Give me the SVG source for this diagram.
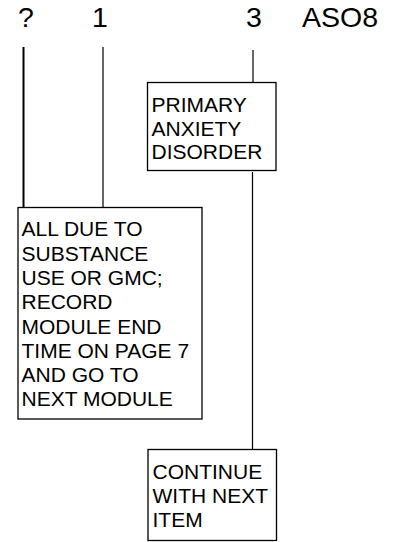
<svg xmlns="http://www.w3.org/2000/svg" width="394" height="542" viewBox="0 0 394 542">
<style>
text{font-family:"Liberation Sans",Arial,sans-serif;fill:#000}
.h{font-size:28.5px}
.b{font-size:21px}
.box{fill:#fff;stroke:#000;stroke-width:1.3}
.ln{stroke:#000;stroke-width:1.2;fill:none}
</style>
<rect width="394" height="542" fill="#fff"/>
<g id="headers">
<text class="h" x="18" y="27">?</text>
<text class="h" x="92" y="27">1</text>
<text class="h" x="246" y="27">3</text>
<text class="h" x="302" y="27">ASO8</text>
</g>
<g id="connectors">
<line class="ln" x1="23.5" y1="47" x2="23.5" y2="207" style="stroke-width:2"/>
<line class="ln" x1="103" y1="47" x2="103" y2="207"/>
<line class="ln" x1="253" y1="50" x2="253" y2="82"/>
<line class="ln" x1="252.5" y1="172" x2="252.5" y2="449"/>
</g>
<g id="primary">
<rect class="box" x="147.5" y="82.5" width="128.5" height="88"/>
<text class="b" x="151.5" y="112">PRIMARY</text>
<text class="b" x="151.5" y="135.5">ANXIETY</text>
<text class="b" x="151.5" y="159">DISORDER</text>
</g>
<g id="alldue">
<rect class="box" x="18" y="207.5" width="184" height="211.5"/>
<text class="b" x="21.5" y="236">ALL DUE TO</text>
<text class="b" x="21.5" y="260.5">SUBSTANCE</text>
<text class="b" x="21.5" y="284.5">USE OR GMC;</text>
<text class="b" x="21.5" y="309">RECORD</text>
<text class="b" x="21.5" y="333.5">MODULE END</text>
<text class="b" x="21.5" y="357.5">TIME ON PAGE 7</text>
<text class="b" x="21.5" y="382">AND GO TO</text>
<text class="b" x="21.5" y="406">NEXT MODULE</text>
</g>
<g id="continue">
<rect class="box" x="148" y="449.5" width="128.5" height="91"/>
<text class="b" x="152.5" y="479">CONTINUE</text>
<text class="b" x="152.5" y="503">WITH NEXT</text>
<text class="b" x="152.5" y="527">ITEM</text>
</g>
</svg>
